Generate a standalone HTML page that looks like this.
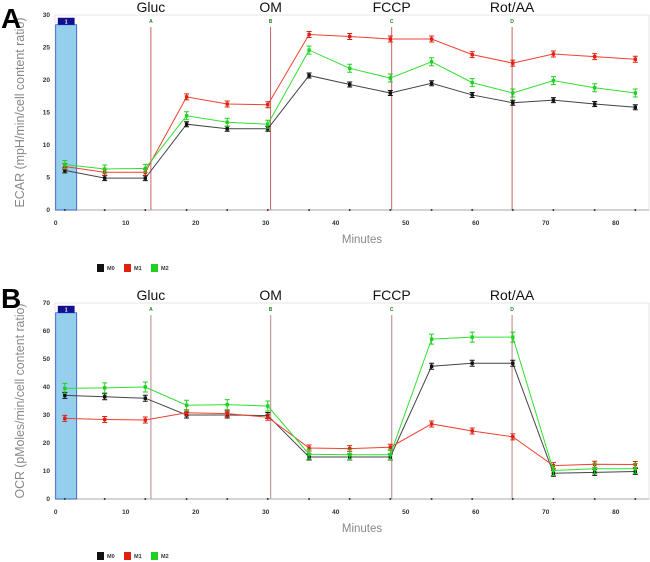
<!DOCTYPE html>
<html><head><meta charset="utf-8"><style>
body{margin:0;background:#fff;width:650px;height:562px;overflow:hidden;font-family:"Liberation Sans",sans-serif}
svg{display:block}
</style></head><body>
<svg id="s" width="650" height="562" xmlns="http://www.w3.org/2000/svg"></svg>
<script>
const times=[1.3,7,12.8,18.7,24.5,30.3,36.2,42,47.8,53.7,59.5,65.3,71.1,77,82.8];
const injTimes=[13.6,30.7,48,65.2];
const injLetters=["A","B","C","D"];
const injNames=["Gluc","OM","FCCP","Rot/AA"];
const xTicks=[0,10,20,30,40,50,60,70,80];
const ecarM0=[6.1,4.9,4.9,13.2,12.5,12.5,20.7,19.3,18,19.5,17.7,16.5,16.9,16.3,15.8];
const ecarM1=[6.7,5.8,5.8,17.4,16.3,16.2,27,26.7,26.3,26.3,23.9,22.6,24,23.6,23.2];
const ecarM2=[7,6.3,6.4,14.5,13.5,13.2,24.6,21.8,20.3,22.8,19.6,18,19.9,18.8,18];
const ecarTicks=[0,5,10,15,20,25,30];
const ocrM0=[37,36.5,36,30,30,29.8,15,15,15,47.4,48.5,48.5,9.2,9.5,9.8];
const ocrM1=[28.8,28.4,28.2,30.8,30.5,29.2,18.2,18,18.5,26.8,24.3,22.2,11.9,12.4,12.3];
const ocrM2=[39.5,39.7,40,33.5,33.7,33.2,16,15.8,15.8,57.1,57.8,57.8,10.2,10.8,10.8];
const ocrTicks=[0,10,20,30,40,50,60,70];
const seriesNames=["M0","M1","M2"];
const colors=["#444","#f04030","#30e030"];
const markColors=["#111","#e02010","#20d020"];

const S=document.getElementById('s');
const NS="http://www.w3.org/2000/svg";
function mk(tag,attrs,parent,text){const e=document.createElementNS(NS,tag);for(const k in attrs)e.setAttribute(k,attrs[k]);if(text!==undefined)e.textContent=text;(parent||S).appendChild(e);return e;}

function chart(cfg){
  const g=mk('g',{});
  
  
  const x0=55.7,pxm=7,top=cfg.top,bot=cfg.bot,ymax=cfg.ymax;
  const X=t=>x0+t*pxm, Y=v=>bot-(v/ymax)*(bot-top);
  const frame=mk('rect',{x:55,y:top,width:594,height:bot-top,fill:'none',stroke:'#e4e4e4'},g);
  
  mk('line',{x1:55,y1:bot,x2:649,y2:bot,stroke:'#bbb','stroke-width':1.2},g);
  const bb=mk('rect',{x:X(0),y:Y(cfg.boxTop),width:X(3)-X(0),height:bot-Y(cfg.boxTop),fill:'#94d0ee',stroke:'#3050c0','stroke-width':0.8},g);
  
  const bl=mk('rect',{x:X(0.3),y:Y(cfg.boxTop)-7,width:X(2.7)-X(0.3),height:7,fill:'#101090'},g);
  
  mk('text',{x:(X(0)+X(3))/2,y:Y(cfg.boxTop)-1.5,'font-size':5,fill:'#fff','text-anchor':'middle','font-weight':'bold'},g,'1');
  injTimes.forEach((t,i)=>{
    const l=mk('line',{x1:X(t),y1:top+12,x2:X(t),y2:bot,stroke:cfg.injColor,'stroke-width':cfg.injW},g);
    
    mk('text',{x:X(t),y:top+8,'font-size':5,fill:'#1a8a1a','text-anchor':'middle','font-weight':'bold'},g,injLetters[i]);
    const tt=mk('text',{x:X(t),y:top-3,'font-size':14,fill:'#111','text-anchor':'middle'},g,injNames[i]);
    
  });
  cfg.ticks.forEach(v=>{mk('text',{x:50,y:Y(v)+2,'font-size':6.5,fill:'#333','text-anchor':'end','font-weight':'bold'},g,String(v));});
  xTicks.forEach(v=>{mk('text',{x:X(v),y:bot+15,'font-size':6.5,fill:'#333','text-anchor':'middle','font-weight':'bold'},g,String(v));});
  times.forEach(t=>mk('circle',{cx:X(t),cy:bot,r:1,fill:'#333'},g));
  const yt=mk('text',{transform:`translate(24,${(top+bot)/2}) rotate(-90)`,'font-size':12.5,fill:'#888','text-anchor':'middle',textLength:cfg.titleLen,lengthAdjust:'spacingAndGlyphs'},g,cfg.yTitle);
  
  const xt=mk('text',{x:362,y:bot+33,'font-size':11.5,fill:'#888','text-anchor':'middle'},g,'Minutes');
  
  const pl=mk('text',{x:1,y:cfg.letterY,'font-size':28,'font-weight':'bold',fill:'#000'},g,cfg.letter);
  
  cfg.series.forEach((arr,si)=>{
    const sg=mk('g',{},g);
    
    mk('polyline',{points:arr.map((v,i)=>X(times[i])+','+Y(v)).join(' '),fill:'none',stroke:colors[si],'stroke-width':1},sg);
    arr.forEach((v,i)=>{
      const cx=X(times[i]),cy=Y(v),d=cfg.errPx[si];
      mk('path',{d:`M${cx},${cy-d}V${cy+d}M${cx-2.5},${cy-d}H${cx+2.5}M${cx-2.5},${cy+d}H${cx+2.5}`,stroke:markColors[si],'stroke-width':1,fill:'none'},sg);
      const p=mk('rect',{x:cx-1.7,y:cy-1.7,width:3.4,height:3.4,fill:markColors[si]},sg);
      
      
    });
  });
  seriesNames.forEach((n,i)=>{
    const lx=97+i*27;
    const le=mk('g',{},g);
    
    mk('rect',{x:lx,y:cfg.legY-4,width:7,height:8,fill:markColors[i]},le);
    mk('text',{x:lx+10,y:cfg.legY+2,'font-size':5.5,'font-weight':'bold',fill:'#333'},le,n);
  });
}
chart({name:'ecar-chart',letter:'A',letterY:28,top:15,bot:210,ymax:30,boxTop:28.5,ticks:ecarTicks,series:[ecarM0,ecarM1,ecarM2],errPx:[2.5,3,4],injColor:'#c85050',injW:0.9,yTitle:'ECAR (mpH/min/cell content ratio)',titleLen:190,legY:268});
chart({name:'ocr-chart',letter:'B',letterY:308,top:303,bot:499,ymax:70,boxTop:66.5,ticks:ocrTicks,series:[ocrM0,ocrM1,ocrM2],errPx:[3,3,5],injColor:'#c8a0a0',injW:1.3,yTitle:'OCR (pMoles/min/cell content ratio)',titleLen:195,legY:556});
</script>
</body></html>
